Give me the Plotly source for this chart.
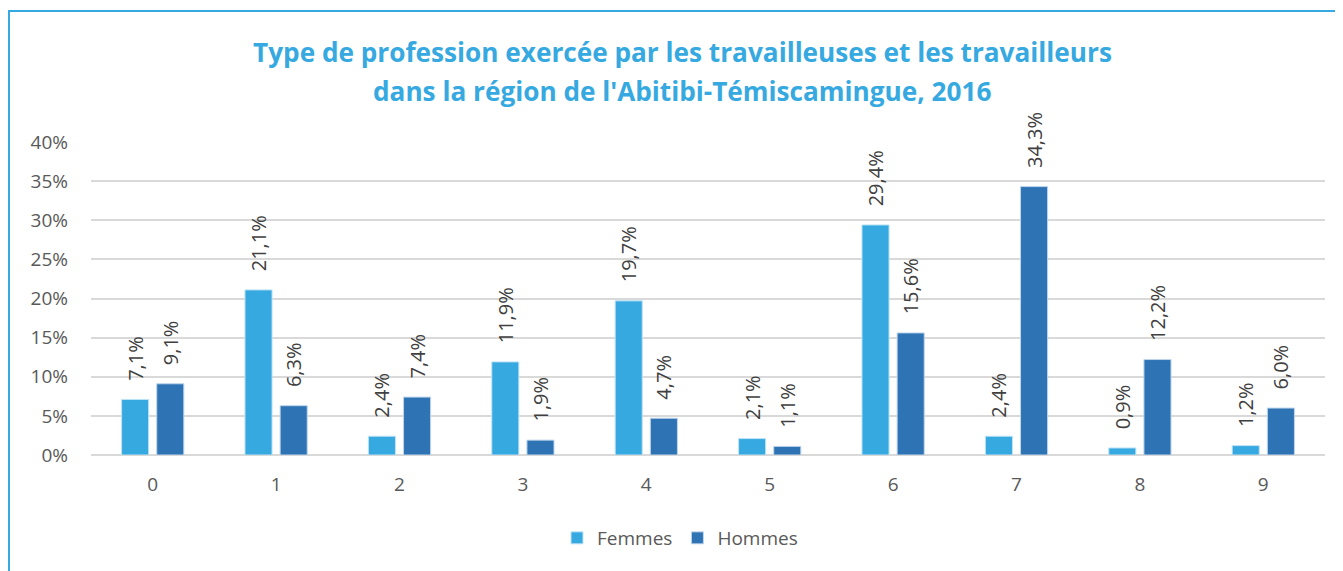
import plotly.graph_objects as go

categories = ["0", "1", "2", "3", "4", "5", "6", "7", "8", "9"]
femmes = [7.1, 21.1, 2.4, 11.9, 19.7, 2.1, 29.4, 2.4, 0.9, 1.2]
hommes = [9.1, 6.3, 7.4, 1.9, 4.7, 1.1, 15.6, 34.3, 12.2, 6.0]
yticks = [0, 5, 10, 15, 20, 25, 30, 35, 40]
title_lines = ["Type de profession exercée par les travailleuses et les travailleurs",
               "dans la région de l'Abitibi-Témiscamingue, 2016"]

PAD = "\u00a0\u00a0\u00a0"

def lab(v):
    return PAD + f"{v:.1f}".replace(".", ",") + "%"

FONT = "Open Sans"
W, H = 1335, 563
ML, MR, MT, MB = 83, 18, 134, 116
PH = H - MT - MB
PW = W - ML - MR

def py(pix):  # figure pixel y -> paper y
    return (H - MB - pix) / PH

def px(pix):
    return (pix - ML) / PW

fig = go.Figure()
fig.add_trace(go.Bar(
    x=categories, y=femmes, name="Femmes",
    marker=dict(color="#36A9E1", line=dict(color="#BFE3F5", width=1)),
    text=[lab(v) for v in femmes], textposition="outside", textangle=-90,
    textfont=dict(family=FONT, size=20, color="#404040"), cliponaxis=False,
))
fig.add_trace(go.Bar(
    x=categories, y=hommes, name="Hommes",
    marker=dict(color="#2E74B5", line=dict(color="#BFD5EC", width=1)),
    text=[lab(v) for v in hommes], textposition="outside", textangle=-90,
    textfont=dict(family=FONT, size=20, color="#404040"), cliponaxis=False,
))

annotations = [
    dict(text=title_lines[0], x=px(674), xref="paper", y=py(44), yref="paper",
         xanchor="center", yanchor="middle", showarrow=False,
         font=dict(family=FONT, size=26.2, color="#36A9E1", weight="bold")),
    dict(text=title_lines[1], x=px(674), xref="paper", y=py(83), yref="paper",
         xanchor="center", yanchor="middle", showarrow=False,
         font=dict(family=FONT, size=26.2, color="#36A9E1", weight="bold")),
]

fig.update_layout(
    width=W, height=H,
    margin=dict(l=ML, r=MR, t=MT, b=MB),
    paper_bgcolor="white", plot_bgcolor="white",
    barmode="group", bargap=0.43, bargroupgap=0.23,
    font=dict(family=FONT, size=19, color="#595959"),
    xaxis=dict(showgrid=False, showline=False, ticks="",
               tickfont=dict(size=19, color="#595959"), ticklabelstandoff=16),
    yaxis=dict(range=[0, 40], tickvals=yticks, ticktext=[f"{t}%" for t in yticks],
               showgrid=True, gridcolor="#D9D9D9", gridwidth=1.5,
               zeroline=True, zerolinecolor="#D9D9D9", zerolinewidth=1.5,
               ticks="", tickfont=dict(size=19, color="#595959"), ticklabelstandoff=22),
    legend=dict(orientation="h", x=px(672), xanchor="center", y=py(530), yanchor="middle",
                font=dict(size=19, color="#595959"), itemwidth=30),
    uniformtext=dict(minsize=20, mode="show"),
    annotations=annotations,
    shapes=[dict(type="rect", xref="paper", yref="paper",
                 x0=px(1), x1=1.2, y0=-0.5, y1=py(3),
                 line=dict(color="#36A9E1", width=2), fillcolor="rgba(0,0,0,0)", layer="below")],
)
fig.write_html("out.html")
